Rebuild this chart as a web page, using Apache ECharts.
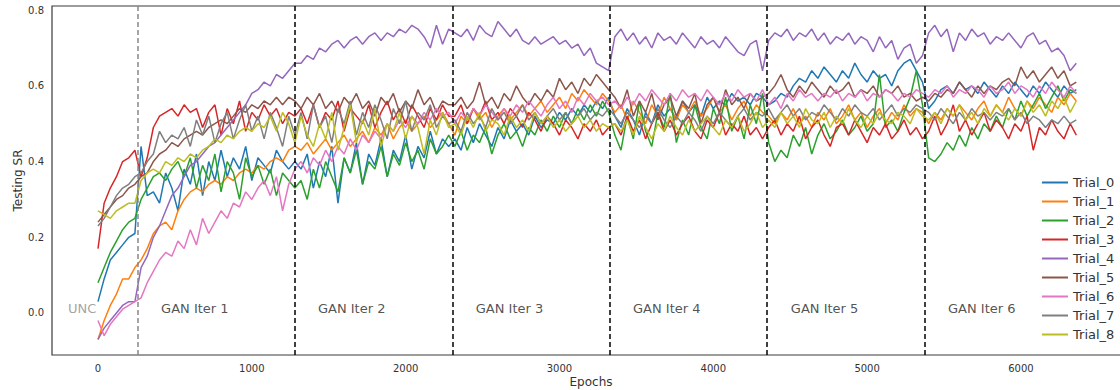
<!DOCTYPE html>
<html>
<head>
<meta charset="utf-8">
<script src="https://cdn.jsdelivr.net/npm/echarts@6/dist/echarts.min.js"></script>
<style>
  html, body { margin: 0; padding: 0; background: #ffffff; }
  #chart { width: 1120px; height: 390px; }
</style>
</head>
<body>
<div id="chart"></div>
<script>
// Testing success rate per trial, sampled every 40 epochs (0 .. 6360).
// Each array: UNC phase, then GAN iterations 1..6 (one line each).
const epochStep = 40;

const trialNames = ['Trial_0', 'Trial_1', 'Trial_2', 'Trial_3', 'Trial_4', 'Trial_5', 'Trial_6', 'Trial_7', 'Trial_8'];
const trialColors = ['#1f77b4', '#ff7f0e', '#2ca02c', '#d62728', '#9467bd', '#8c564b', '#e377c2', '#7f7f7f', '#bcbd22'];

const trial0 = [
  0.03, 0.09, 0.14, 0.16, 0.18, 0.20, 0.21,
  0.44, 0.31, 0.32, 0.29, 0.37, 0.33, 0.27, 0.38, 0.34, 0.42, 0.31, 0.40, 0.35, 0.43, 0.36, 0.41, 0.38, 0.44, 0.35, 0.41, 0.39, 0.37, 0.43, 0.40, 0.38, 0.40,
  0.38, 0.42, 0.33, 0.40, 0.36, 0.44, 0.29, 0.41, 0.37, 0.45, 0.34, 0.42, 0.39, 0.46, 0.36, 0.43, 0.40, 0.47, 0.38, 0.44, 0.41, 0.48, 0.42, 0.46, 0.44,
  0.46, 0.43, 0.49, 0.45, 0.50, 0.47, 0.44, 0.49, 0.46, 0.51, 0.48, 0.50, 0.47, 0.52, 0.49, 0.51, 0.50, 0.53, 0.51, 0.54, 0.52, 0.55, 0.53, 0.56, 0.54, 0.57,
  0.52, 0.49, 0.54, 0.51, 0.47, 0.53, 0.50, 0.55, 0.52, 0.54, 0.51, 0.56, 0.53, 0.55, 0.52, 0.57, 0.54, 0.56, 0.55, 0.58, 0.56, 0.57, 0.55, 0.58, 0.57,
  0.55, 0.56, 0.58, 0.57, 0.60, 0.62, 0.61, 0.64, 0.62, 0.65, 0.63, 0.61, 0.64, 0.62, 0.66, 0.63, 0.61, 0.64, 0.62, 0.63, 0.60, 0.64, 0.66, 0.67, 0.64, 0.61,
  0.54, 0.56, 0.59, 0.60, 0.58, 0.61, 0.59, 0.60, 0.58, 0.61, 0.59, 0.57, 0.60, 0.58, 0.61, 0.59, 0.57, 0.60, 0.58, 0.61, 0.59, 0.57, 0.60, 0.58, 0.59
];

const trial1 = [
  -0.07, -0.02, 0.02, 0.05, 0.09, 0.09, 0.12,
  0.14, 0.17, 0.21, 0.23, 0.24, 0.22, 0.27, 0.30, 0.32, 0.33, 0.32, 0.34, 0.35, 0.34, 0.36, 0.35, 0.37, 0.38, 0.37, 0.39, 0.38, 0.40, 0.41, 0.40, 0.43, 0.44,
  0.43, 0.45, 0.42, 0.44, 0.46, 0.43, 0.45, 0.47, 0.44, 0.46, 0.48, 0.45, 0.49, 0.47, 0.50, 0.46, 0.49, 0.51, 0.48, 0.50, 0.52, 0.49, 0.51, 0.53, 0.50,
  0.47, 0.52, 0.50, 0.54, 0.51, 0.53, 0.49, 0.52, 0.54, 0.51, 0.53, 0.55, 0.52, 0.54, 0.56, 0.53, 0.55, 0.57, 0.54, 0.58, 0.56, 0.59, 0.57, 0.55, 0.58, 0.56,
  0.53, 0.55, 0.51, 0.56, 0.53, 0.50, 0.55, 0.52, 0.57, 0.54, 0.51, 0.55, 0.53, 0.56, 0.52, 0.54, 0.57, 0.53, 0.55, 0.51, 0.54, 0.56, 0.52, 0.55, 0.53,
  0.52, 0.50, 0.53, 0.51, 0.54, 0.50, 0.52, 0.49, 0.53, 0.51, 0.54, 0.50, 0.52, 0.55, 0.51, 0.53, 0.49, 0.52, 0.54, 0.50, 0.53, 0.51, 0.55, 0.52, 0.54, 0.53,
  0.50, 0.53, 0.51, 0.54, 0.52, 0.55, 0.53, 0.51, 0.54, 0.56, 0.52, 0.55, 0.53, 0.57, 0.54, 0.52, 0.56, 0.54, 0.57, 0.55, 0.53, 0.57, 0.55, 0.58, 0.56
];

const trial2 = [
  0.08, 0.12, 0.16, 0.19, 0.22, 0.24, 0.25,
  0.30, 0.33, 0.36, 0.37, 0.35, 0.38, 0.40, 0.36, 0.41, 0.33, 0.39, 0.35, 0.42, 0.32, 0.40, 0.37, 0.30, 0.41, 0.36, 0.39, 0.34, 0.38, 0.31, 0.37, 0.35, 0.33,
  0.35, 0.30, 0.38, 0.33, 0.40, 0.36, 0.32, 0.41, 0.37, 0.43, 0.34, 0.40, 0.38, 0.44, 0.36, 0.42, 0.39, 0.45, 0.40, 0.43, 0.38, 0.46, 0.42, 0.44, 0.47,
  0.44, 0.48, 0.43, 0.47, 0.45, 0.49, 0.42, 0.47, 0.50, 0.46, 0.48, 0.44, 0.49, 0.47, 0.51, 0.48, 0.52, 0.49, 0.53, 0.50, 0.54, 0.51, 0.55, 0.52, 0.56, 0.53,
  0.47, 0.43, 0.52, 0.46, 0.56, 0.48, 0.44, 0.53, 0.49, 0.58, 0.45, 0.51, 0.47, 0.55, 0.49, 0.46, 0.54, 0.50, 0.57, 0.48, 0.52, 0.46, 0.55, 0.50, 0.58,
  0.45, 0.40, 0.43, 0.41, 0.47, 0.44, 0.49, 0.42, 0.47, 0.50, 0.46, 0.48, 0.51, 0.47, 0.49, 0.52, 0.48, 0.50, 0.63, 0.49, 0.51, 0.48, 0.53, 0.57, 0.64, 0.55,
  0.41, 0.40, 0.42, 0.45, 0.43, 0.47, 0.44, 0.49, 0.46, 0.50, 0.48, 0.52, 0.49, 0.54, 0.51, 0.56, 0.52, 0.55, 0.58, 0.54, 0.57, 0.60, 0.56, 0.59, 0.58
];

const trial3 = [
  0.17, 0.29, 0.33, 0.36, 0.40, 0.41, 0.43,
  0.36, 0.41, 0.49, 0.52, 0.53, 0.54, 0.52, 0.55, 0.53, 0.54, 0.49, 0.53, 0.55, 0.47, 0.54, 0.50, 0.56, 0.48, 0.53, 0.51, 0.55, 0.52, 0.54, 0.50, 0.53, 0.52,
  0.54, 0.50, 0.55, 0.49, 0.53, 0.51, 0.56, 0.48, 0.54, 0.52, 0.50, 0.55, 0.49, 0.53, 0.56, 0.51, 0.54, 0.50, 0.55, 0.52, 0.49, 0.54, 0.51, 0.55, 0.52,
  0.52, 0.55, 0.50, 0.54, 0.52, 0.56, 0.51, 0.53, 0.50, 0.54, 0.52, 0.49, 0.53, 0.51, 0.48, 0.52, 0.50, 0.47, 0.51, 0.49, 0.46, 0.50, 0.48, 0.51, 0.47, 0.49,
  0.50, 0.47, 0.52, 0.48, 0.51, 0.46, 0.50, 0.53, 0.48, 0.51, 0.47, 0.50, 0.52, 0.48, 0.46, 0.51, 0.49, 0.53, 0.47, 0.50, 0.48, 0.52, 0.47, 0.49, 0.46,
  0.49, 0.51, 0.47, 0.50, 0.48, 0.52, 0.46, 0.49, 0.51, 0.47, 0.44, 0.49, 0.50, 0.47, 0.51, 0.48, 0.45, 0.49, 0.47, 0.50, 0.46, 0.48, 0.51, 0.47, 0.49, 0.46,
  0.48, 0.52, 0.47, 0.50, 0.55, 0.48, 0.51, 0.47, 0.50, 0.53, 0.48, 0.51, 0.49, 0.46, 0.50, 0.48, 0.52, 0.43, 0.49, 0.47, 0.51, 0.48, 0.46, 0.50, 0.47
];

const trial4 = [
  -0.07, -0.04, -0.02, 0.00, 0.02, 0.03, 0.03,
  0.12, 0.15, 0.20, 0.23, 0.27, 0.31, 0.33, 0.36, 0.39, 0.40, 0.42, 0.44, 0.45, 0.47, 0.49, 0.51, 0.53, 0.55, 0.58, 0.59, 0.61, 0.60, 0.63, 0.62, 0.64, 0.66,
  0.66, 0.68, 0.67, 0.70, 0.69, 0.71, 0.72, 0.70, 0.72, 0.73, 0.71, 0.73, 0.74, 0.72, 0.74, 0.73, 0.75, 0.74, 0.76, 0.75, 0.73, 0.70, 0.76, 0.71, 0.75,
  0.74, 0.73, 0.75, 0.72, 0.76, 0.74, 0.73, 0.77, 0.75, 0.73, 0.75, 0.72, 0.71, 0.73, 0.71, 0.72, 0.73, 0.71, 0.72, 0.70, 0.71, 0.68, 0.70, 0.66, 0.65, 0.64,
  0.73, 0.75, 0.72, 0.74, 0.71, 0.73, 0.70, 0.74, 0.72, 0.73, 0.71, 0.74, 0.72, 0.70, 0.73, 0.71, 0.72, 0.70, 0.73, 0.71, 0.69, 0.68, 0.71, 0.72, 0.64,
  0.72, 0.74, 0.73, 0.75, 0.72, 0.74, 0.73, 0.75, 0.72, 0.74, 0.71, 0.73, 0.72, 0.74, 0.71, 0.73, 0.72, 0.69, 0.73, 0.70, 0.72, 0.67, 0.70, 0.71, 0.66, 0.68,
  0.74, 0.76, 0.73, 0.75, 0.69, 0.74, 0.72, 0.75, 0.73, 0.74, 0.71, 0.73, 0.72, 0.74, 0.72, 0.70, 0.73, 0.74, 0.71, 0.72, 0.69, 0.70, 0.68, 0.64, 0.66
];

const trial5 = [
  0.24, 0.26, 0.28, 0.30, 0.31, 0.33, 0.34,
  0.36, 0.37, 0.40, 0.42, 0.43, 0.45, 0.44, 0.46, 0.47, 0.48, 0.47, 0.49, 0.50, 0.51, 0.50, 0.52, 0.54, 0.53, 0.55, 0.54, 0.56, 0.55, 0.57, 0.55, 0.57, 0.56,
  0.54, 0.57, 0.55, 0.58, 0.54, 0.56, 0.53, 0.57, 0.55, 0.58, 0.54, 0.56, 0.52, 0.57, 0.55, 0.58, 0.53, 0.56, 0.54, 0.59, 0.55, 0.57, 0.53, 0.56, 0.55,
  0.55, 0.57, 0.54, 0.56, 0.61, 0.55, 0.57, 0.54, 0.58, 0.56, 0.60, 0.57, 0.55, 0.58, 0.56, 0.59, 0.57, 0.62, 0.59, 0.61, 0.58, 0.62, 0.60, 0.63, 0.61, 0.59,
  0.57, 0.54, 0.59, 0.52, 0.56, 0.53, 0.58, 0.51, 0.55, 0.57, 0.52, 0.56, 0.54, 0.58, 0.50, 0.55, 0.57, 0.53, 0.59, 0.55, 0.57, 0.54, 0.58, 0.56, 0.57,
  0.58, 0.60, 0.63, 0.59, 0.57, 0.60, 0.58, 0.61, 0.59, 0.57, 0.60, 0.58, 0.59, 0.61, 0.57, 0.59, 0.58, 0.60, 0.57, 0.59, 0.58, 0.60, 0.57, 0.58, 0.56, 0.57,
  0.56, 0.58, 0.57, 0.59, 0.58, 0.61, 0.59, 0.57, 0.60, 0.58, 0.60, 0.59, 0.61, 0.62, 0.60, 0.65, 0.62, 0.64, 0.61, 0.63, 0.65, 0.62, 0.64, 0.60, 0.61
];

const trial6 = [
  -0.02, -0.06, -0.03, -0.01, 0.01, 0.02, 0.03,
  0.04, 0.08, 0.11, 0.14, 0.16, 0.15, 0.19, 0.17, 0.22, 0.18, 0.25, 0.21, 0.24, 0.27, 0.25, 0.29, 0.28, 0.32, 0.30, 0.33, 0.35, 0.31, 0.36, 0.27, 0.34, 0.38,
  0.40, 0.37, 0.41, 0.39, 0.43, 0.40, 0.44, 0.42, 0.46, 0.43, 0.47, 0.45, 0.48, 0.46, 0.50, 0.48, 0.51, 0.49, 0.52, 0.50, 0.53, 0.51, 0.54, 0.52, 0.53,
  0.50, 0.53, 0.51, 0.54, 0.52, 0.55, 0.53, 0.51, 0.54, 0.52, 0.55, 0.53, 0.56, 0.54, 0.52, 0.55, 0.57, 0.54, 0.56, 0.53, 0.57, 0.55, 0.58, 0.56, 0.57, 0.55,
  0.56, 0.54, 0.57, 0.55, 0.58, 0.56, 0.59, 0.57, 0.55, 0.58, 0.56, 0.59, 0.57, 0.58, 0.56, 0.59, 0.57, 0.55, 0.58, 0.56, 0.59, 0.57, 0.58, 0.56, 0.59,
  0.55, 0.57, 0.54, 0.58, 0.56, 0.59, 0.57, 0.58, 0.56, 0.58, 0.57, 0.59, 0.56, 0.58, 0.57, 0.59, 0.56, 0.58, 0.57, 0.59, 0.58, 0.56, 0.58, 0.57, 0.59, 0.58,
  0.57, 0.59, 0.58, 0.60, 0.57, 0.59, 0.58, 0.60, 0.59, 0.57, 0.60, 0.58, 0.59, 0.61, 0.58, 0.60, 0.59, 0.57, 0.60, 0.58, 0.61, 0.59, 0.57, 0.60, 0.58
];

const trial7 = [
  0.23, 0.25, 0.28, 0.31, 0.33, 0.34, 0.36,
  0.37, 0.40, 0.42, 0.48, 0.45, 0.47, 0.46, 0.49, 0.44, 0.51, 0.47, 0.52, 0.45, 0.50, 0.53, 0.46, 0.51, 0.55, 0.48, 0.52, 0.46, 0.53, 0.49, 0.44, 0.52, 0.47,
  0.53, 0.46, 0.55, 0.49, 0.52, 0.45, 0.54, 0.50, 0.56, 0.47, 0.53, 0.49, 0.55, 0.51, 0.46, 0.54, 0.50, 0.56, 0.48, 0.53, 0.51, 0.55, 0.49, 0.52, 0.50,
  0.51, 0.48, 0.53, 0.50, 0.52, 0.49, 0.54, 0.51, 0.53, 0.50, 0.52, 0.55, 0.51, 0.53, 0.50, 0.52, 0.54, 0.51, 0.53, 0.50, 0.52, 0.54, 0.51, 0.53, 0.52, 0.54,
  0.52, 0.50, 0.53, 0.51, 0.49, 0.52, 0.50, 0.54, 0.51, 0.49, 0.52, 0.50, 0.53, 0.51, 0.48, 0.52, 0.50, 0.53, 0.51, 0.49, 0.52, 0.54, 0.51, 0.53, 0.52,
  0.54, 0.51, 0.53, 0.55, 0.52, 0.54, 0.51, 0.53, 0.52, 0.55, 0.53, 0.51, 0.54, 0.52, 0.55, 0.53, 0.52, 0.54, 0.51, 0.53, 0.55, 0.52, 0.54, 0.53, 0.55, 0.54,
  0.53, 0.51, 0.54, 0.52, 0.50, 0.53, 0.51, 0.54, 0.52, 0.53, 0.51, 0.53, 0.52, 0.54, 0.51, 0.53, 0.50, 0.52, 0.51, 0.49, 0.51, 0.50, 0.52, 0.50, 0.51
];

const trial8 = [
  0.27, 0.26, 0.25, 0.27, 0.28, 0.29, 0.29,
  0.35, 0.37, 0.38, 0.37, 0.40, 0.39, 0.41, 0.40, 0.42, 0.41, 0.43, 0.44, 0.46, 0.45, 0.47, 0.46, 0.48, 0.49, 0.48, 0.50, 0.49, 0.52, 0.48, 0.53, 0.50, 0.45,
  0.52, 0.47, 0.44, 0.50, 0.46, 0.53, 0.43, 0.49, 0.55, 0.45, 0.51, 0.47, 0.54, 0.44, 0.50, 0.48, 0.53, 0.46, 0.52, 0.49, 0.42, 0.51, 0.47, 0.53, 0.49,
  0.50, 0.47, 0.52, 0.49, 0.53, 0.48, 0.51, 0.50, 0.47, 0.52, 0.49, 0.51, 0.48, 0.53, 0.50, 0.52, 0.49, 0.51, 0.48, 0.50, 0.52, 0.49, 0.51, 0.48, 0.50, 0.49,
  0.50, 0.48, 0.51, 0.47, 0.52, 0.49, 0.46, 0.50, 0.48, 0.52, 0.49, 0.47, 0.51, 0.48, 0.50, 0.52, 0.49, 0.47, 0.51, 0.49, 0.52, 0.48, 0.50, 0.53, 0.49,
  0.51, 0.49, 0.53, 0.50, 0.52, 0.49, 0.54, 0.51, 0.50, 0.53, 0.49, 0.52, 0.50, 0.54, 0.51, 0.49, 0.52, 0.50, 0.53, 0.51, 0.50, 0.53, 0.52, 0.50, 0.54, 0.52,
  0.51, 0.53, 0.50, 0.54, 0.52, 0.55, 0.51, 0.53, 0.50, 0.54, 0.52, 0.55, 0.53, 0.51, 0.54, 0.52, 0.56, 0.53, 0.55, 0.52, 0.56, 0.54, 0.57, 0.53, 0.56
];

const trials = [trial0, trial1, trial2, trial3, trial4, trial5, trial6, trial7, trial8];

// Epochs where each training phase ends (first line closes the UNC phase)
const iterBoundaries = [258, 1281, 2304, 3327, 4350, 5373];
const phaseLabels = ['UNC', 'GAN Iter 1', 'GAN Iter 2', 'GAN Iter 3', 'GAN Iter 4', 'GAN Iter 5', 'GAN Iter 6'];
const phaseLabelX = [-195, 410, 1430, 2456, 3478, 4504, 5526];
const phaseLabelY = 0.011;

const xTicks = [0, 1000, 2000, 3000, 4000, 5000, 6000];
const yTicks = [0.0, 0.2, 0.4, 0.6, 0.8];

const textColor = '#333333';

const lineSeries = trials.map((vals, k) => ({
  name: trialNames[k],
  type: 'line',
  showSymbol: false,
  symbol: 'none',
  color: trialColors[k],
  lineStyle: { width: 1.5, color: trialColors[k] },
  data: vals.map((v, i) => [i * epochStep, v]),
  z: 2
}));

const phaseSeries = {
  name: 'phases',
  type: 'scatter',
  symbolSize: 0,
  itemStyle: { color: 'rgba(0,0,0,0)' },
  silent: true,
  z: 3,
  data: phaseLabels.map((t, i) => ({
    name: t,
    value: [phaseLabelX[i], phaseLabelY],
    label: { color: i === 0 ? '#8c8c8c' : '#262626' }
  })),
  label: {
    show: true,
    position: 'right',
    distance: 0,
    formatter: p => p.name,
    fontFamily: 'DejaVu Sans',
    fontSize: 13
  },
  markLine: {
    silent: true,
    symbol: ['none', 'none'],
    label: { show: false },
    lineStyle: { type: [5, 3], width: 1.5 },
    data: iterBoundaries.map((x, i) => ({
      xAxis: x,
      lineStyle: { color: i === 0 ? '#888888' : '#000000', type: [5, 3], width: 1.5 }
    }))
  }
};

const chart = echarts.init(document.getElementById('chart'), null, { renderer: 'svg' });
chart.setOption({
  animation: false,
  backgroundColor: '#ffffff',
  textStyle: { fontFamily: 'DejaVu Sans' },
  grid: {
    left: 52, top: 6, width: 1078, height: 349,
    show: true, borderColor: '#3a3a3a', borderWidth: 1.2,
    containLabel: false, outerBoundsMode: 'none'
  },
  legend: {
    data: trialNames,
    orient: 'vertical',
    left: 1037,
    top: 171,
    itemWidth: 26,
    itemHeight: 2,
    itemGap: 6,
    icon: 'rect',
    textStyle: { fontFamily: 'DejaVu Sans', fontSize: 13, color: textColor },
    selectedMode: false
  },
  xAxis: {
    type: 'value',
    min: -299,
    max: 6709,
    name: 'Epochs',
    nameLocation: 'middle',
    nameGap: 21,
    nameMoveOverlap: false,
    nameTextStyle: { fontFamily: 'DejaVu Sans', fontSize: 12, color: textColor },
    axisLine: { show: false },
    axisTick: { show: false },
    splitLine: { show: false },
    axisLabel: {
      customValues: xTicks,
      formatter: v => String(v),
      fontFamily: 'DejaVu Sans',
      fontSize: 10,
      color: textColor,
      margin: 8
    }
  },
  yAxis: {
    type: 'value',
    min: -0.111,
    max: 0.811,
    name: 'Testing SR',
    nameLocation: 'middle',
    nameGap: 28,
    nameMoveOverlap: false,
    nameTextStyle: { fontFamily: 'DejaVu Sans', fontSize: 12, color: textColor },
    axisLine: { show: false },
    axisTick: { show: false },
    splitLine: { show: false },
    axisLabel: {
      customValues: yTicks,
      formatter: v => v.toFixed(1),
      fontFamily: 'DejaVu Sans',
      fontSize: 10,
      color: textColor,
      margin: 8
    }
  },
  series: [...lineSeries, phaseSeries]
});
</script>
</body>
</html>
